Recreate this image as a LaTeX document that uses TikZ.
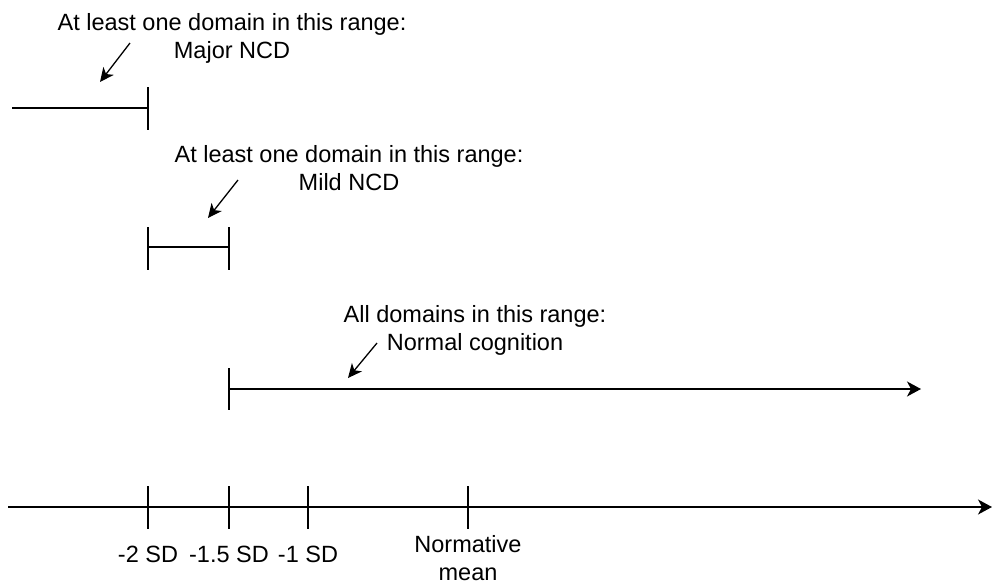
\documentclass[tikz,border=0pt]{standalone}
\usepackage{fontspec}
\setmainfont{Liberation Sans}
\usetikzlibrary{arrows.meta, positioning}
\tikzset{
  rangeline/.style={line width=1.5pt},
  pointer/.style={line width=1.3pt, -{Stealth[length=14pt, width=13pt, inset=4pt]}},
  rangetext/.style={font=\fontsize{23.5}{28}\selectfont, align=center, inner sep=0pt, anchor=north},
}

\begin{document}
\begin{tikzpicture}[x=1pt, y=-1pt]
        \useasboundingbox (0,0) rectangle (992,581);
        % score axis with SD ticks
        \coordinate (axisL) at (8,507);
        \coordinate (axisR) at (992,507);
        \draw[rangeline, -{Stealth[length=14pt, width=15pt, inset=4pt]}] (axisL) -- (axisR);
        \foreach \name/\x in {sdtwo/148, sdhalf/229, sdone/308, mean/468} {
          \coordinate (\name top) at (\x,486);
          \coordinate (\name) at (\x,529);
          \draw[rangeline] (\name top) -- (\name);
        }
        \node[rangetext, below=17pt of sdtwo]  (sdtwolbl)  {-2 SD};
        \node[rangetext, below=17pt of sdhalf] (sdhalflbl) {-1.5 SD};
        \node[rangetext, below=17pt of sdone]  (sdonelbl)  {-1 SD};
        \node[rangetext, below=6pt of mean]    (meanlbl)   {Normative\\mean};

        % major NCD
        \coordinate (majorL) at (12,108);
        \coordinate (majorR) at (148,108);
        \draw[rangeline] (majorL) -- (majorR);
        \draw[rangeline] (148,87) -- (148,130);
        \node[rangetext] (majortxt) at (232,13)
          {At least one domain in this range:\\Major NCD};
        \coordinate (majorptA) at (130,43);
        \coordinate (majorptB) at (100,82);
        \draw[pointer] (majorptA) -- (majorptB);

        % mild NCD
        \coordinate (mildL) at (148,247);
        \coordinate (mildR) at (229,247);
        \draw[rangeline] (mildL) -- (mildR);
        \draw[rangeline] (148,227) -- (148,270);
        \draw[rangeline] (229,227) -- (229,270);
        \node[rangetext] (mildtxt) at (349,145)
          {At least one domain in this range:\\Mild NCD};
        \coordinate (mildptA) at (238,180);
        \coordinate (mildptB) at (208,218);
        \draw[pointer] (mildptA) -- (mildptB);

        % normal cognition
        \coordinate (normalL) at (229,389);
        \coordinate (normalR) at (921,389);
        \draw[rangeline, -{Stealth[length=14pt, width=15pt, inset=4pt]}] (normalL) -- (normalR);
        \draw[rangeline] (229,368) -- (229,410);
        \node[rangetext] (normaltxt) at (475,305)
          {All domains in this range:\\Normal cognition};
        \coordinate (normalptA) at (377,343);
        \coordinate (normalptB) at (348,378);
        \draw[pointer] (normalptA) -- (normalptB);
      \end{tikzpicture}
\end{document}
